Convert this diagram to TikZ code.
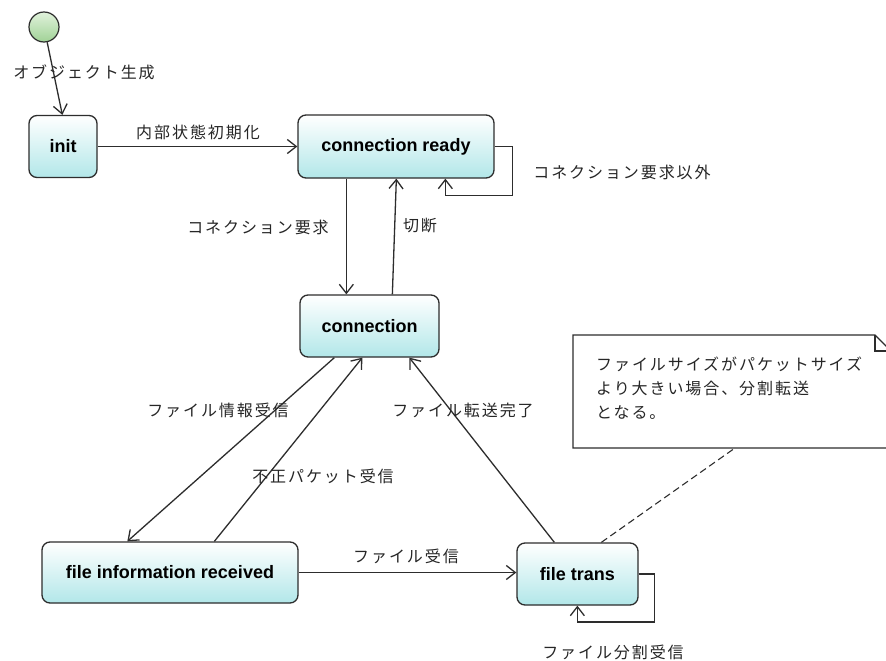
\documentclass[tikz,border=0pt]{standalone}
\usepackage{fontspec}
\setmainfont{Liberation Sans}
\newfontfamily\jp[LetterSpace=12]{Noto Sans CJK JP}
\usetikzlibrary{arrows.meta,calc}
\definecolor{boxbot}{RGB}{178,231,233}
\definecolor{lineg}{RGB}{45,45,45}
\definecolor{gtop}{RGB}{225,242,220}
\definecolor{gbot}{RGB}{160,210,150}
\tikzset{
  stbox/.style={draw=lineg, line width=1.3pt, rounded corners=8pt, top color=white, bottom color=boxbot, font=\bfseries\fontsize{18}{20}\selectfont, inner sep=0pt},
  lbl/.style={font=\jp\fontsize{16}{18}\selectfont, text=black!85, inner sep=0pt},
  conn/.style={draw=lineg, line width=1.3pt, -{Straight Barb[length=9pt,width=14pt,line width=1.3pt]}},
  loopl/.style={draw=lineg, line width=1.3pt, rounded corners=0pt, -{Straight Barb[length=9pt,width=14pt,line width=1.3pt]}},
  initst/.style={circle, draw=lineg, line width=1.2pt, minimum size=30pt, inner sep=0pt, top color=gtop, bottom color=gbot}
}
\begin{document}
\begin{tikzpicture}[x=1pt,y=-1pt]
\clip (0,0) rectangle (886,661);
\fill[white] (0,0) rectangle (886,661);
% states
\node[initst] (start) at (44,27) {};
\node[stbox, minimum width=68pt, minimum height=62pt] (init) at (63,146.5) {init};
\node[stbox, minimum width=196pt, minimum height=63pt] (ready) at (396,146.5) {connection ready};
\node[stbox, minimum width=139pt, minimum height=62pt] (con) at (369.5,326) {connection};
\node[stbox, minimum width=256pt, minimum height=61pt] (fir) at (170,572.5) {file information received};
\node[stbox, minimum width=121pt, minimum height=62pt] (ft) at (577.5,574) {file trans};
% note
\draw[lineg, line width=1.1pt, fill=white] (573,335) -- (875,335) -- (891,351) -- (891,448) -- (573,448) -- cycle;
\draw[lineg, line width=1.1pt] (875,335) -- (875,351) -- (891,351);
\node[font=\jp\fontsize{16}{24}\selectfont, text=black!85, align=left, anchor=north west, inner sep=0pt] (notetext) at (596,357) {ファイルサイズがパケットサイズ\\より大きい場合、分割転送\\となる。};
\coordinate (notebot) at (735,448);
% transitions
\draw[conn] (start) -- ([xshift=34pt]init.north west);
\draw[conn] (init.east) -- (init.east -| ready.west);
\draw[conn] ([xshift=49pt]ready.south west) -- ([xshift=47pt]con.north west);
\draw[conn] ([xshift=93pt]con.north west) -- ([xshift=99pt]ready.south west);
\draw[loopl] (ready.east) -- ++(18,0) -- ++(0,49) -| ([xshift=148pt]ready.south west);
\draw[conn] ([xshift=35pt]con.south west) -- ([xshift=86pt]fir.north west);
\draw[conn] ([xshift=173pt]fir.north west) -- ([xshift=63pt]con.south west);
\draw[conn] ([xshift=38pt]ft.north west) -- ([xshift=110pt]con.south west);
\draw[conn] (fir.east) -- (fir.east -| ft.west);
\draw[loopl] (ft.east) -- ++(16,0) -- ++(0,48) -| ([xshift=61pt]ft.south west);
\draw[lineg, line width=1.1pt, dash pattern=on 7pt off 4pt] ([xshift=85pt]ft.north west) -- (notebot);
% labels
\node[lbl] (l1) at (84,72) {オブジェクト生成};
\node[lbl] (l2) at (198,132) {内部状態初期化};
\node[lbl] (l3) at (622,172) {コネクション要求以外};
\node[lbl] (l4) at (258,227) {コネクション要求};
\node[lbl] (l5) at (420,226) {切断};
\node[lbl] (l6) at (218,410) {ファイル情報受信};
\node[lbl] (l7) at (323,476) {不正パケット受信};
\node[lbl] (l8) at (463,410) {ファイル転送完了};
\node[lbl] (l9) at (406,556) {ファイル受信};
\node[lbl] (l10) at (613,652) {ファイル分割受信};
\end{tikzpicture}
\end{document}
